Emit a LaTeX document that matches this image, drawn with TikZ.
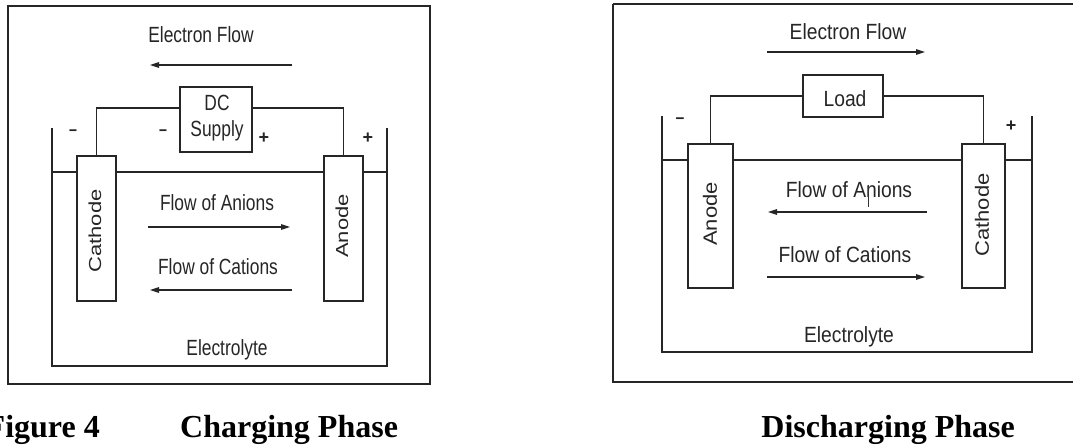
\documentclass[tikz,border=0pt]{standalone}
\usepackage{fontspec}
\usepackage{graphicx}
\setmainfont{Liberation Sans}
\newfontfamily\serfont{Liberation Serif}
\usetikzlibrary{arrows.meta}
\newcommand\lsq[1]{\scalebox{0.79}[1]{#1}}
\newcommand\rsq[1]{\scalebox{0.875}[1]{#1}}
\newcommand\lrot[1]{\scalebox{1}[0.79]{#1}}
\newcommand\rrot[1]{\scalebox{1}[0.875]{#1}}
\tikzset{
  wire/.style={line width=1.3pt, black!85},
  arr/.style={wire, -{Triangle[length=9pt,width=5.5pt]}},
  box/.style={draw, line width=1.3pt, black!85, fill=white, inner sep=0pt, rectangle},
  lbl/.style={inner sep=0pt, font=\fontsize{22}{26}\selectfont, text=black!85},
  sgn/.style={inner sep=0pt, font=\fontsize{18}{20}\selectfont\bfseries, text=black!85},
  ttl/.style={inner sep=0pt, font=\fontsize{32}{36}\selectfont\serfont\bfseries},
}
\begin{document}
\begin{tikzpicture}[x=1pt,y=-1pt]
\clip (0,0) rectangle (1073,446);
\fill[white] (0,0) rectangle (1073,446);

% ================= LEFT: Charging =================
\draw[wire] (8,6) rectangle (430,384);
\draw[wire] (52,128) -- (52,366) -- (387,366) -- (387,128);
\draw[wire] (52,172) -- (387,172);

\node[box, minimum width=39pt, minimum height=145pt] (cathL) at (96.5,228.5) {};
\node[box, minimum width=39pt, minimum height=145pt] (anL) at (343.5,228.5) {};
\node[box, minimum width=72pt, minimum height=65pt] (dc) at (216,119.5) {};
\coordinate (wl) at (0,108);
\draw[wire] (cathL.north) |- (dc.west |- wl);
\draw[wire] (dc.east |- wl) -| (anL.north);

\node[lbl, anchor=base] (dcA) at (217,111) {\lsq{DC}};
\node[lbl, anchor=base] (dcB) at (217,137) {\lsq{Supply}};
\node[lbl, rotate=90] (cathLt) at (95,231) {\lrot{Cathode}};
\node[lbl, rotate=90] (anLt) at (342,226) {\lrot{Anode}};

\node[lbl, anchor=base] (efL) at (201,43) {\lsq{Electron Flow}};
\coordinate (efL1) at (292,65); \coordinate (efL2) at (150,65);
\draw[arr] (efL1) -- (efL2);

\node[lbl, anchor=base] (faL) at (217,211) {\lsq{Flow of Anions}};
\coordinate (faL1) at (148,227); \coordinate (faL2) at (290,227);
\draw[arr] (faL1) -- (faL2);

\node[lbl, anchor=base] (fcL) at (218,275) {\lsq{Flow of Cations}};
\coordinate (fcL1) at (292,290); \coordinate (fcL2) at (150,290);
\draw[arr] (fcL1) -- (fcL2);

\node[lbl, anchor=base] (elL) at (227,355) {\lsq{Electrolyte}};

\node[sgn] (m1) at (73,133) {\lsq{–}};
\node[sgn] (m2) at (163,133) {\lsq{–}};
\node[sgn] (p1) at (264,138) {+};
\node[sgn] (p2) at (368,138) {+};

\node[ttl, anchor=base east] (fig) at (100,437) {Figure 4};
\node[ttl, anchor=base west] (chg) at (180,437) {Charging Phase};

% ================= RIGHT: Discharging =================
\draw[wire] (613,4) -- (1090,4);
\draw[wire] (613,4) -- (613,382) -- (1090,382);
\draw[wire] (662,116) -- (662,352) -- (1032,352) -- (1032,116);
\draw[wire] (662,160) -- (1032,160);

\node[box, minimum width=45pt, minimum height=144pt] (anR) at (710.5,216) {};
\node[box, minimum width=43pt, minimum height=144pt] (cathR) at (983.5,216) {};
\node[box, minimum width=80pt, minimum height=42pt] (load) at (843,96) {};
\draw[wire] (anR.north) |- (load.west);
\draw[wire] (load.east) -| (cathR.north);

\node[lbl, anchor=base] (loadt) at (845,107) {\rsq{Load}};
\node[lbl, rotate=90] (anRt) at (710,214) {\rrot{Anode}};
\node[lbl, rotate=90] (cathRt) at (982,215) {\rrot{Cathode}};

\node[lbl, anchor=base] (efR) at (848,40) {\rsq{Electron Flow}};
\coordinate (efR1) at (767,52); \coordinate (efR2) at (925,52);
\draw[arr] (efR1) -- (efR2);

\node[lbl, anchor=base] (faR) at (849,198) {\rsq{Flow of Anions}};
\coordinate (faR1) at (927,212); \coordinate (faR2) at (768,212);
\draw[arr] (faR1) -- (faR2);
\coordinate (cur1) at (868,185); \coordinate (cur2) at (868,207);
\draw[line width=0.8pt, black!80] (cur1) -- (cur2);

\node[lbl, anchor=base] (fcR) at (845,262) {\rsq{Flow of Cations}};
\coordinate (fcR1) at (767,277); \coordinate (fcR2) at (925,277);
\draw[arr] (fcR1) -- (fcR2);

\node[lbl, anchor=base] (elR) at (849,342) {\rsq{Electrolyte}};

\node[sgn] (m3) at (680,121) {\rsq{–}};
\node[sgn] (p3) at (1011,126) {+};

\node[ttl, anchor=base east] (dis) at (1015,437) {Discharging Phase};
\end{tikzpicture}
\end{document}
